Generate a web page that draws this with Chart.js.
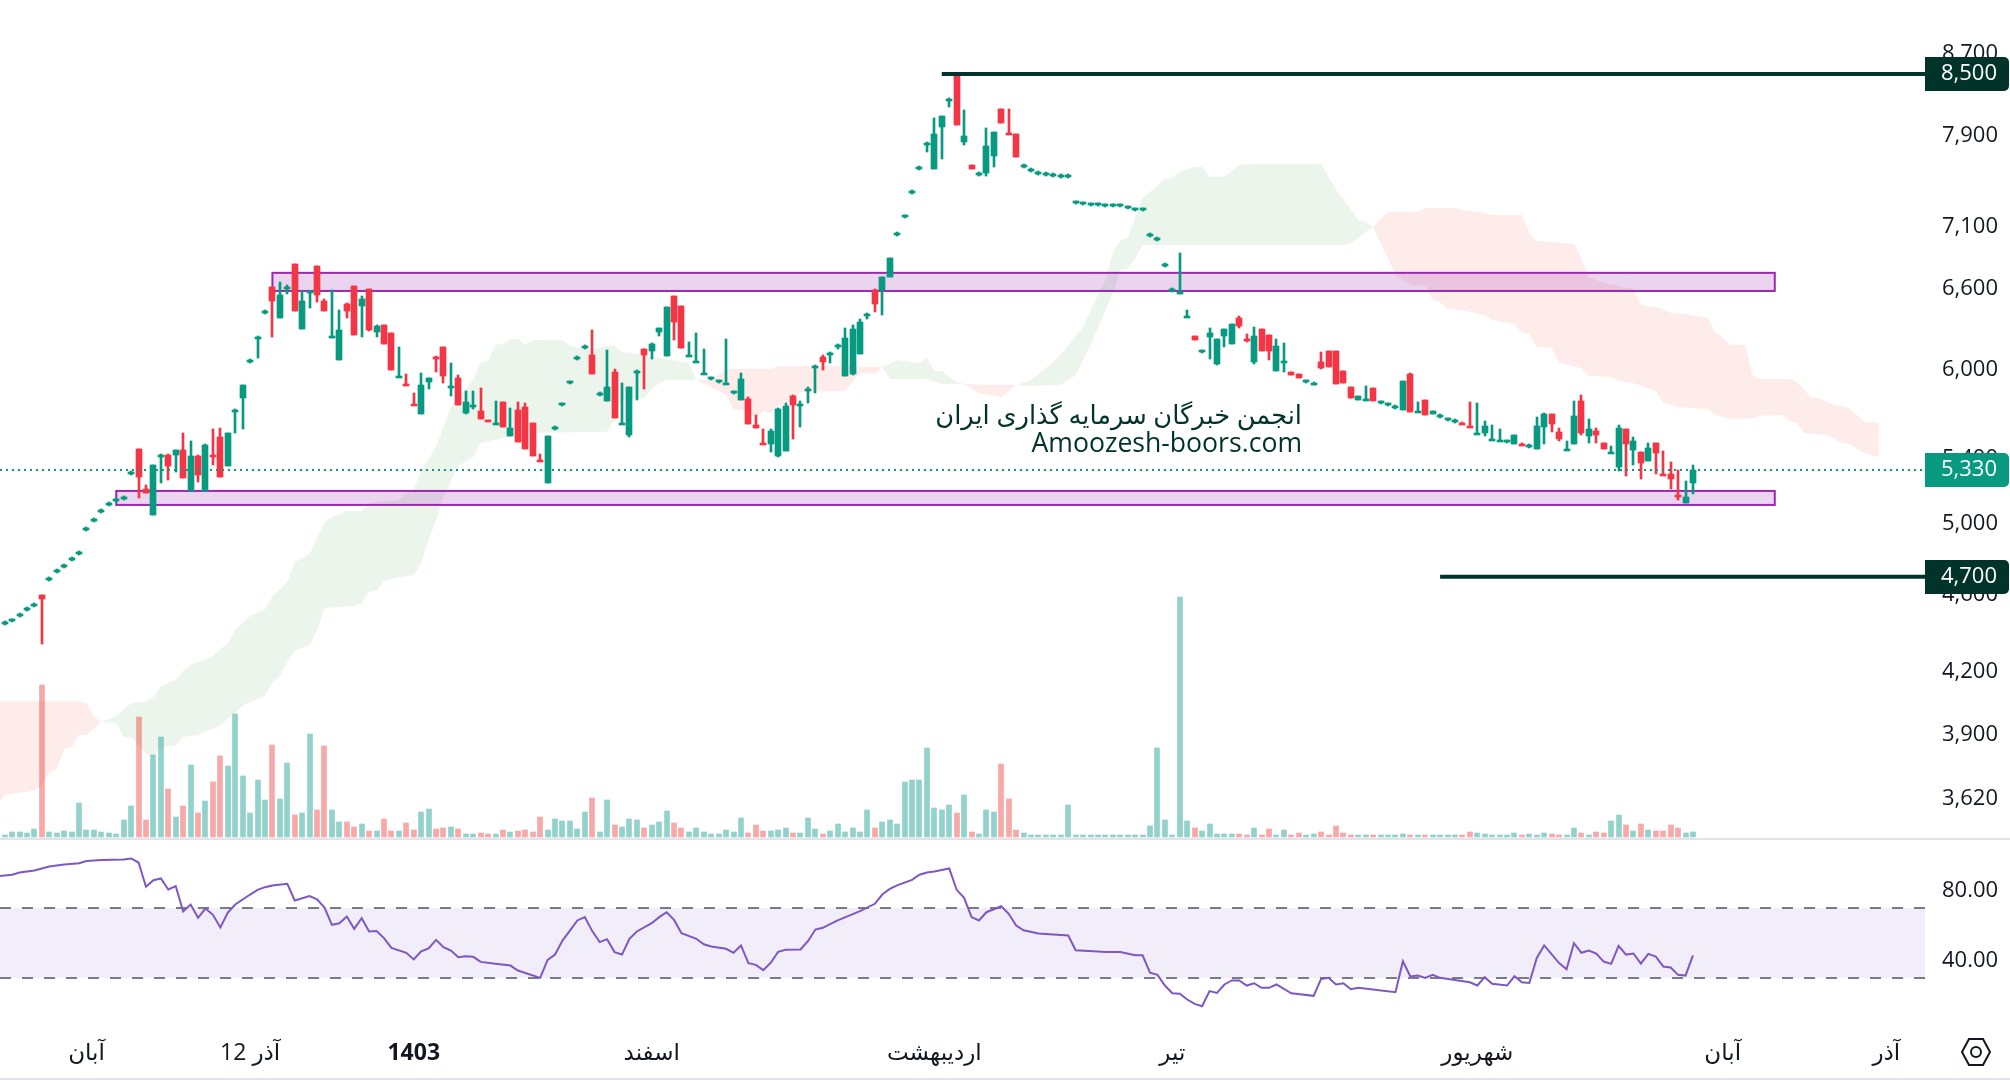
<!DOCTYPE html>
<html lang="fa">
<head>
    <meta charset="UTF-8">
    <title>نمودار قیمت</title>
    <script src="https://cdn.jsdelivr.net/npm/chart.js"></script>
    <style>
        html, body { margin: 0; padding: 0; background: #fff; }
        canvas { display: block; }
    </style>
</head>
<body>
    <canvas id="priceChart" width="2010" height="1080"></canvas>

    <script>
        // candles, one value per bar
        const opens = [
            4449,4464,4491,4523,4545,4600,4686,4731,4759,4798, 4832,4970,5023,5077,5119,5143,5155,5310,5464,5213,
            5055,5420,5425,5425,5457,5200,5419,5200,5430,5542, 5356,5712,5802,6059,6225,6419,6613,6376,6605,6795,
            6294,6575,6779,6504,6235,6068,6481,6621,6466,6598, 6272,6324,6265,5945,5905,5768,5694,5912,6097,6162,
            5880,5940,5700,5750,5714,5655,5625,5775,5549,5721, 5741,5634,5400,5250,5599,5759,5910,6080,6160,6104,
            5828,5781,5983,5630,5555,5985,6148,6133,6272,6097, 6543,6466,6093,6050,5965,5938,5917,5895,5841,5788,
            5795,5621,5510,5496,5419,5451,5815,5755,5860,6015, 6090,6110,6170,5954,5969,6111,6395,6590,6590,6691,
            7037,7187,7394,7606,7825,7600,7985,8240,8490,7846, 7636,7553,7564,7718,8157,7925,7920,7625,7589,7562,
            7553,7544,7535,7535,7307,7298,7290,7290,7281,7281, 7281,7264,7247,7247,7029,6996,6785,6588,6565,6385,
            6243,6130,6235,6039,6243,6184,6376,6225,6054,6294, 6250,5990,6050,5983,5969,5917,5901,6054,6133,6133,
            5990,5878,5788,5785,5871,5772,5759,5739,5721,5969, 5705,5788,5694,5679,5658,5645,5640,5620,5560,5568,
            5520,5515,5513,5496,5503,5482,5464,5608,5694,5575, 5460,5496,5781,5549,5581,5503,5435,5349,5595,5457,
            5445,5387,5503,5310,5305,5182,5127,5250
        ];
        const highs = [
            4459,4474,4501,4533,4555,4600,4696,4741,4770,4809, 4843,4982,5035,5089,5131,5155,5167,5322,5464,5237,
            5362,5430,5432,5457,5568,5516,5425,5496,5595,5601, 5568,5725,5892,6072,6240,6433,6613,6652,6630,6795,
            6582,6585,6779,6520,6590,6436,6490,6621,6543,6598, 6324,6324,6265,6162,5969,5836,5976,5940,6097,6162,
            6047,5961,5850,5850,5871,5655,5781,5775,5734,5775, 5768,5634,5432,5549,5611,5771,5922,6093,6173,6287,
            5840,6141,6004,5905,5878,6000,6148,6190,6302,6459, 6543,6466,6198,6265,6148,5950,5929,6220,5853,5976,
            5808,5687,5595,5595,5735,5768,5825,5781,5875,6030, 6104,6125,6185,6302,6324,6369,6415,6598,6691,6843,
            7052,7202,7410,7622,7845,8070,8090,8260,8490,8147, 7636,7569,7976,7939,8157,8157,7920,7641,7605,7578,
            7569,7560,7551,7551,7322,7313,7305,7305,7296,7296, 7296,7279,7262,7262,7044,7011,6799,6602,6884,6436,
            6243,6143,6302,6220,6294,6331,6391,6258,6309,6294, 6250,6220,6191,5983,5969,5929,5913,6126,6133,6133,
            5990,5878,5815,5885,5871,5784,5771,5751,5919,5976, 5775,5788,5714,5691,5670,5657,5640,5775,5768,5647,
            5621,5595,5525,5555,5503,5494,5674,5700,5694,5601, 5516,5781,5822,5661,5601,5503,5482,5621,5595,5542,
            5445,5503,5503,5451,5380,5330,5262,5362
        ];
        const lows = [
            4439,4454,4481,4513,4535,4342,4676,4721,4748,4787, 4821,4958,5011,5065,5107,5131,5143,5298,5157,5188,
            5055,5250,5268,5318,5280,5200,5256,5200,5362,5287, 5356,5568,5595,6046,6082,6405,6235,6376,6558,6429,
            6294,6452,6497,6429,6228,6068,6376,6250,6235,6280, 6235,6184,5997,5945,5890,5755,5694,5864,5983,5905,
            5815,5754,5694,5727,5661,5645,5625,5608,5549,5509, 5464,5419,5388,5250,5587,5747,5898,6067,6147,5969,
            5816,5781,5667,5630,5542,5788,5864,6075,6243,6097, 6213,6155,6093,6050,5965,5926,5905,5895,5829,5788,
            5628,5601,5498,5445,5412,5451,5529,5608,5768,5836, 5997,6047,6148,5954,5962,6111,6369,6421,6398,6691,
            7022,7172,7378,7590,7755,7600,7690,8175,8005,7819, 7600,7537,7538,7618,8023,7915,7709,7609,7573,7546,
            7537,7528,7519,7519,7292,7283,7275,7275,7266,7266, 7266,7249,7232,7232,7014,6981,6771,6574,6560,6385,
            6213,6117,6075,6030,6162,6184,6302,6198,6039,6133, 6068,5990,5983,5961,5940,5905,5889,6004,6018,5898,
            5905,5802,5788,5785,5781,5760,5747,5727,5721,5707, 5705,5687,5694,5667,5646,5633,5628,5608,5560,5549,
            5520,5515,5501,5496,5490,5470,5464,5496,5575,5516, 5460,5496,5555,5503,5503,5464,5435,5324,5293,5362,
            5274,5387,5305,5298,5213,5145,5127,5182
        ];
        const closes = [
            4449,4464,4491,4523,4545,4578,4686,4731,4759,4798, 4832,4970,5023,5077,5119,5143,5155,5310,5287,5188,
            5362,5428,5356,5457,5280,5419,5299,5490,5420,5287, 5568,5721,5892,6059,6235,6419,6504,6551,6620,6429,
            6504,6582,6551,6429,6243,6287,6429,6250,6520,6287, 6316,6184,5997,5955,5890,5755,5892,5940,6085,5954,
            5890,5754,5775,5760,5661,5645,5635,5608,5601,5509, 5464,5419,5388,5549,5599,5759,5910,6080,6160,5969,
            5828,5878,5667,5640,5878,5997,6104,6184,6302,6459, 6346,6155,6103,6060,5975,5938,5917,5905,5841,5933,
            5628,5601,5498,5581,5727,5747,5754,5765,5871,6025, 6054,6119,6177,6228,6294,6346,6405,6481,6691,6843,
            7037,7187,7394,7606,7837,7920,8090,8250,8005,7901, 7600,7553,7810,7939,8023,7915,7709,7625,7589,7562,
            7553,7544,7535,7535,7307,7298,7290,7290,7281,7281, 7281,7264,7247,7247,7029,6996,6785,6588,6578,6393,
            6213,6130,6265,6220,6294,6331,6316,6215,6243,6133, 6133,6170,6060,5961,5940,5917,5901,6011,6018,5898,
            5905,5802,5815,5795,5781,5772,5759,5739,5919,5707, 5714,5687,5714,5679,5658,5645,5628,5608,5570,5614,
            5530,5525,5513,5555,5490,5482,5614,5694,5628,5529, 5470,5681,5568,5595,5555,5464,5445,5601,5496,5516,
            5374,5470,5438,5298,5274,5172,5163,5330
        ];
        const volumes = [
            2,5,5,4,8,152,5,4,6,5, 34,7,7,5,4,3,17,31,120,17, 82,100,48,20,31,72,24,36,55,81,
            71,123,61,24,57,37,92,38,74,22, 24,103,27,91,27,15,15,10,13,6, 6,18,6,6,14,7,25,28,8,9,
            10,8,3,3,4,3,3,7,5,6, 7,5,20,7,18,16,16,8,25,39, 5,37,12,10,18,17,9,12,15,26,
            14,9,5,9,5,3,3,7,5,19, 4,12,6,6,7,9,4,4,19,8, 3,6,13,5,9,5,27,9,15,17,
            13,55,57,57,89,29,27,32,24,42, 5,3,27,25,73,38,7,4,2,2, 2,2,2,32,2,2,2,2,2,2,
            2,2,2,2,11,89,17,2,240,16, 9,6,13,3,3,3,3,2,9,2, 8,2,7,2,4,2,3,5,2,11,
            4,2,2,2,2,2,2,2,3,2, 2,2,2,2,2,2,2,5,4,3, 2,2,2,4,2,3,2,4,3,2,
            2,9,4,2,5,4,16,22,12,6, 13,7,6,6,12,9,4,5
        ];

        // rsi, read at its corners: bar number and value
        const rsiBars = [
            -1,1,2,4,6,8,10,11,13,16,17,18,19,20,21,22,23,24,25,26,27,28,29,30,31,33,34,35,36,38,39,41,42,43,44,45,46,47,48,49,
            50,51,52,54,55,56,57,58,59,60,61,62,63,64,66,68,69,72,73,74,75,76,77,78,79,80,81,82,83,84,85,87,88,89,
            90,91,93,94,95,97,98,99,100,101,102,103,104,105,107,108,109,110,112,115,117,118,119,120,122,123,124,125,127,128,129,
            130,131,132,134,135,136,137,139,143,144,147,148,150,152,153,154,155,156,157,158,159,160,161,162,163,164,165,166,167,168,169,
            170,171,173,176,177,178,179,180,181,182,187,188,189,190,191,192,193,197,198,199,200,202,203,204,205,206,207,209,
            210,211,212,213,214,215,216,217,218,219,220,221,222,223,224,225,226,227
        ];
        const rsiValues = [
            88.2,89,90.3,91.4,93.7,94.9,95.6,96.8,97.5,97.7,98.3,96,82.1,85.9,86.9,80.6,82.5,68,72,64.4,69.7,66.1,58.9,67.4,72,77.7,80.4,81.9,82.9,83.8,74.3,76.8,75,70.3,60.4,61.3,65.1,58.1,64.2,56.6,
            56.8,52.8,47.2,44.4,40.6,45.3,46.9,51.8,47.6,45.7,41.9,42.5,42.1,39.2,38.1,37.1,34.3,30.1,40.4,43.4,51.4,57.1,62.9,64.8,56.8,50.5,52.2,44.8,43.4,52.4,56.6,61.3,64.8,67.6,
            63.2,55.6,52.4,49.3,48,46.7,44.4,48.6,38.5,37.5,34.5,38.7,45,46.1,46.3,51,57.7,58.7,62.9,68.2,72.4,77.7,80.9,82.9,86.1,89,90.3,90.9,92.6,80.4,75.8,
            64.8,62.9,67.6,71,66.7,60,57.3,55.4,54.3,45.9,45.1,44.8,44.8,43,43,33,31.8,25.7,21.3,21,17.7,15.2,13.9,22.5,21.5,26.3,28.6,28.6,25.7,27,24.4,
            24.4,26.3,21.3,19.8,29.5,30.1,26.3,27,23.6,24.4,21.9,39.6,30.9,31.4,30.1,31.8,30.1,27.6,25.7,30.5,26.7,25.7,31,27.6,27.2,41.5,48.6,38.5,
            35,49.9,44.4,45.7,44,39.4,38.1,48.4,43.4,44,38.3,43.8,42.3,36.6,36,31.8,31.4,42.9
        ];

        // ichimoku cloud edges, read at their corners
        const spanABars = [
            -1,0,4,5,6,7,8,9,10,11,13,15,17,19,20,21,23,24,25,28,29,30,31,33,35,36,38,39,41,42,43,44,46,48,49,53,54,55,56,58,60,63,64,65,66,67,68,69,70,71,75,76,77,79,81,82,83,85,88,92,93,
            95,97,98,99,101,102,103,104,106,107,113,114,115,117,118,120,123,124,125,126,128,129,131,134,136,
            138,141,143,145,146,148,149,150,151,153,154,156,157,158,160,161,162,164,166,168,172,177,179,180,182,183,184,
            185,186,187,189,191,192,193,194,195,199,200,203,204,205,206,208,209,212,213,216,217,219,222,223,225,229,230,232,235,236,239,240,241,242,245,247,248,250,252
        ];
        const spanAValues = [
            3592,3635,3652,3677,3731,3749,3835,3844,3900,3900,3961,3989,4050,4055,4079,4132,4161,4206,4236,4281,4315,4346,4414,4487,4523,4594,4671,4783,4828,4920,5013,5043,5079,5079,5127,5145,5188,5207,5330,5477,5741,5926,6054,6061,6177,6184,6220,6220,6177,6213,6213,6170,6155,6141,6170,6170,6126,6111,6082,6047,5926,
            5878,5822,5721,5721,5674,5707,5700,5747,5788,5843,5850,5912,5976,5969,6018,6068,6047,6082,5990,5990,5912,5898,5836,5808,5892,
            5926,6054,6170,6309,6436,6668,6884,6990,7006,7353,7395,7511,7520,7575,7617,7617,7529,7529,7636,7645,7645,7645,7415,7336,7156,7139,7097,
            6965,6843,6707,6629,6621,6512,6497,6444,6444,6398,6361,6331,6265,6258,6162,6155,6047,6011,5954,5947,5919,5905,5850,5768,5741,5727,5687,5661,5661,5681,5687,5647,5634,5568,5555,5503,5496,5438,5412
        ];
        const spanBBars = [
            -1,10,11,12,13,15,16,17,19,20,21,23,24,26,29,31,32,35,36,37,38,39,41,42,43,47,48,49,50,51,52,54,55,56,57,58,59,61,63,64,68,70,81,82,83,86,87,88,89,93,
            95,96,97,103,104,110,117,118,119,124,126,129,133,136,
            138,142,144,146,148,149,150,151,152,153,180,181,182,183,184,
            185,186,190,191,195,196,199,200,204,205,206,208,211,212,213,215,219,220,222,224,226,229,230,231,232,234,235,236,240,241,243,244,246,248,250,252
        ];
        const spanBValues = [
            4059,4059,4050,3989,3961,3956,3891,3891,3814,3800,3844,3853,3891,3900,3947,4003,4040,4084,4151,4181,4251,4310,4336,4414,4530,4541,4557,4617,4622,4677,4688,4704,4710,4777,4908,5025,5163,5356,5412,5503,5542,5568,5575,5654,5788,5802,5864,5905,5926,5926,
            5926,5961,6004,6004,6025,6025,6018,6018,5933,5933,5898,5898,5892,5892,
            5885,5892,5961,6177,6436,6567,6747,6756,6843,6949,6949,6965,7006,7056,7097,
            7165,7225,7225,7259,7259,7242,7216,7199,7199,7048,6982,6973,6957,6843,6691,6644,6598,6474,6459,6414,6406,6376,6265,6235,6177,6177,5961,5933,5933,5912,5802,5802,5754,5734,5641,5634
        ];

        // drawn levels
        const priceLevels = [8500, 4700];
        const priceLevelStarts = [126, 193];
        const lastPrice = 5330;
        const zoneTops = [6724, 5200];
        const zoneBottoms = [6582, 5115];
        const zoneStarts = [36, 15];
        const zoneEnds = [238, 238];
        const rsiLimits = [70, 30];

        // axis ticks
        const priceTicks = [8700, 7900, 7100, 6600, 6000, 5400, 5000, 4600, 4200, 3900, 3620];
        const rsiTicks = [80, 40];
        const timeTickBars = [11, 33, 55, 87, 125, 157, 198, 231, 253];
        const timeTickLabels = ['آبان', '12 آذر', '1403', 'اسفند', 'اردیبهشت', 'تیر', 'شهریور', 'آبان', 'آذر'];

        const UP = '#089981', DOWN = '#F23645', DARK = '#00332A', INK = '#131722';
        const FONT = '"Open Sans", "DejaVu Sans", sans-serif';
        const bars = opens.map((o, i) => i);
        const isUp = i => closes[i] >= opens[i];
        const xMin = -0.63, xMax = 258.2;

        function points(xs, ys) {
            return xs.map((x, i) => ({x: x, y: ys[i]}));
        }
        function flatLine(from, to, y) {
            return [{x: from, y: y}, {x: to, y: y}];
        }
        function lineSet(extra) {
            return Object.assign({type: 'line', yAxisID: 'y', pointRadius: 0, borderWidth: 0, fill: false, tension: 0}, extra);
        }
        // no room reserved for half tick labels, the panes run edge to edge
        function fitY(s) {
            s.width = 85;
            s.paddingTop = 0;
            s.paddingBottom = 0;
        }

        // snap the bars to whole pixels so the candles stay crisp
        const snapBars = {
            id: 'snapBars',
            afterDatasetsUpdate(chart) {
                chart.data.datasets.forEach((ds, i) => {
                    if (ds.type !== 'bar') return;
                    chart.getDatasetMeta(i).data.forEach(el => {
                        el.x = Math.round(el.x);
                        el.y = Math.round(el.y);
                        el.base = Math.round(el.base);
                        // a flat body only gets its minimum height upwards, centre it on the price
                        if (ds.minBarLength && Math.abs(el.base - el.y) <= ds.minBarLength) {
                            el.y += 1;
                            el.base += 1;
                        }
                    });
                });
            }
        };

        // purple zones, between the cloud and the candles
        const zones = {
            id: 'zones',
            beforeDatasetsDraw(chart) {
                const {ctx, scales} = chart;
                ctx.save();
                ctx.fillStyle = 'rgba(156,39,176,0.2)';
                ctx.strokeStyle = '#9C27B0';
                ctx.lineWidth = 2;
                zoneTops.forEach((top, i) => {
                    const x = scales.x.getPixelForValue(zoneStarts[i]);
                    const y = scales.y.getPixelForValue(top);
                    const w = scales.x.getPixelForValue(zoneEnds[i]) - x;
                    const h = scales.y.getPixelForValue(zoneBottoms[i]) - y;
                    ctx.fillRect(x, y, w, h);
                    ctx.strokeRect(x, y, w, h);
                });
                ctx.restore();
            }
        };

        // watermark, price tags, pane lines and the little logo
        const decorations = {
            id: 'decorations',
            afterDraw(chart) {
                const {ctx, scales, chartArea} = chart;
                ctx.save();

                ctx.fillStyle = DARK;
                ctx.textAlign = 'right';
                ctx.textBaseline = 'middle';
                ctx.font = '25.7px ' + FONT;
                ctx.direction = 'rtl';
                ctx.fillText('انجمن خبرگان سرمایه گذاری ایران', 1302, 417);
                ctx.direction = 'ltr';
                ctx.font = '26.6px ' + FONT;
                ctx.fillText('Amoozesh-boors.com', 1302, 444);

                const tag = (value, color) => {
                    const y = Math.round(scales.y.getPixelForValue(value));
                    ctx.fillStyle = color;
                    ctx.beginPath();
                    ctx.roundRect(chartArea.right, y - 17, 84, 34, [0, 5, 5, 0]);
                    ctx.fill();
                    ctx.fillStyle = '#fff';
                    ctx.font = '22px ' + FONT;
                    ctx.fillText(value.toLocaleString('en-US'), 1997, y);
                };
                tag(priceLevels[0], DARK);
                tag(lastPrice, UP);
                tag(priceLevels[1], DARK);

                ctx.fillStyle = '#E0E3EB';
                ctx.fillRect(0, scales.y.bottom - 1, 2010, 2);
                ctx.fillRect(0, 1078, 2010, 2);

                ctx.strokeStyle = INK;
                ctx.lineWidth = 2;
                ctx.beginPath();
                ctx.moveTo(1962, 1052); ctx.lineTo(1969, 1039); ctx.lineTo(1983, 1039);
                ctx.lineTo(1990, 1052); ctx.lineTo(1983, 1065); ctx.lineTo(1969, 1065);
                ctx.closePath();
                ctx.stroke();
                ctx.beginPath();
                ctx.arc(1976, 1052, 5, 0, Math.PI * 2);
                ctx.stroke();
                ctx.restore();
            }
        };

        new Chart(document.getElementById('priceChart'), {
            type: 'bar',
            data: {
                datasets: [
                    // cloud
                    lineSet({
                        data: points(spanABars, spanAValues), order: 9,
                        fill: {target: '+1', above: 'rgba(67,160,71,0.1)', below: 'rgba(244,67,54,0.1)'}
                    }),
                    lineSet({data: points(spanBBars, spanBValues), order: 9}),
                    // rsi band and limits
                    lineSet({
                        yAxisID: 'yRsi', data: flatLine(xMin, xMax, rsiLimits[0]), order: 8,
                        borderWidth: 2, borderColor: '#787B86', borderDash: [11, 11],
                        fill: {target: '+1', above: 'rgba(126,87,194,0.1)', below: 'rgba(126,87,194,0.1)'}
                    }),
                    lineSet({
                        yAxisID: 'yRsi', data: flatLine(xMin, xMax, rsiLimits[1]), order: 8,
                        borderWidth: 2, borderColor: '#787B86', borderDash: [11, 11]
                    }),
                    lineSet({
                        yAxisID: 'yRsi', data: points(rsiBars, rsiValues), order: 2,
                        borderWidth: 2, borderColor: '#7E57C2'
                    }),
                    // volume
                    {
                        type: 'bar', yAxisID: 'yVol', order: 7, grouped: false, barThickness: 5,
                        data: bars.map(i => ({x: i, y: volumes[i]})),
                        backgroundColor: bars.map(i => isUp(i) ? 'rgba(38,166,154,0.5)' : 'rgba(239,83,80,0.5)')
                    },
                    // candles
                    {
                        type: 'bar', yAxisID: 'y', order: 5, grouped: false, barThickness: 2,
                        data: bars.map(i => ({x: i, y: [lows[i], highs[i]]})),
                        backgroundColor: bars.map(i => isUp(i) ? UP : DOWN)
                    },
                    {
                        type: 'bar', yAxisID: 'y', order: 4, grouped: false, barThickness: 6, minBarLength: 2,
                        data: bars.map(i => ({x: i, y: [opens[i], closes[i]]})),
                        backgroundColor: bars.map(i => isUp(i) ? UP : DOWN)
                    },
                    // levels
                    lineSet({data: flatLine(xMin, xMax, lastPrice), order: 3, borderWidth: 2, borderColor: UP, borderDash: [2, 4]}),
                    lineSet({data: flatLine(priceLevelStarts[0], xMax, priceLevels[0]), order: 1, borderWidth: 4, borderColor: DARK}),
                    lineSet({data: flatLine(priceLevelStarts[1], xMax, priceLevels[1]), order: 1, borderWidth: 4, borderColor: DARK})
                ]
            },
            options: {
                responsive: false,
                animation: false,
                layout: {padding: 0},
                plugins: {
                    legend: {display: false},
                    tooltip: {enabled: false},
                    filler: {drawTime: 'beforeDatasetsDraw'}
                },
                scales: {
                    x: {
                        type: 'linear', min: xMin, max: xMax, offset: false,
                        grid: {display: false}, border: {display: false},
                        afterFit: s => { s.height = 54; s.paddingLeft = 0; s.paddingRight = 0; },
                        afterBuildTicks: s => { s.ticks = timeTickBars.map(v => ({value: v})); },
                        ticks: {
                            autoSkip: false, maxRotation: 0, padding: 6, color: INK,
                            font: c => ({family: FONT, size: 23, weight: c.tick && c.tick.value === 55 ? 'bold' : 'normal'}),
                            callback: v => timeTickLabels[timeTickBars.indexOf(v)]
                        }
                    },
                    y: {
                        type: 'logarithmic', position: 'right', stack: 'panes', stackWeight: 839, bounds: 'data',
                        min: 3450.4, max: 9274,
                        grid: {display: false}, border: {display: false},
                        afterFit: fitY,
                        afterBuildTicks: s => { s.ticks = priceTicks.map(v => ({value: v})); },
                        ticks: {
                            autoSkip: false, padding: 9, color: INK, font: {family: FONT, size: 22},
                            callback: v => v.toLocaleString('en-US')
                        }
                    },
                    yRsi: {
                        type: 'linear', position: 'right', stack: 'panes', stackWeight: 187,
                        min: 2.58, max: 109.43,
                        grid: {display: false}, border: {display: false},
                        afterFit: fitY,
                        afterBuildTicks: s => { s.ticks = rsiTicks.map(v => ({value: v})); },
                        ticks: {
                            autoSkip: false, padding: 9, color: INK, font: {family: FONT, size: 22},
                            callback: v => v.toFixed(2)
                        }
                    },
                    // volume sits over the price pane, one unit per pixel from its base line
                    yVol: {type: 'linear', display: false, min: -189, max: 837, grid: {display: false}}
                }
            },
            plugins: [snapBars, zones, decorations]
        });
    </script>
</body>
</html>
